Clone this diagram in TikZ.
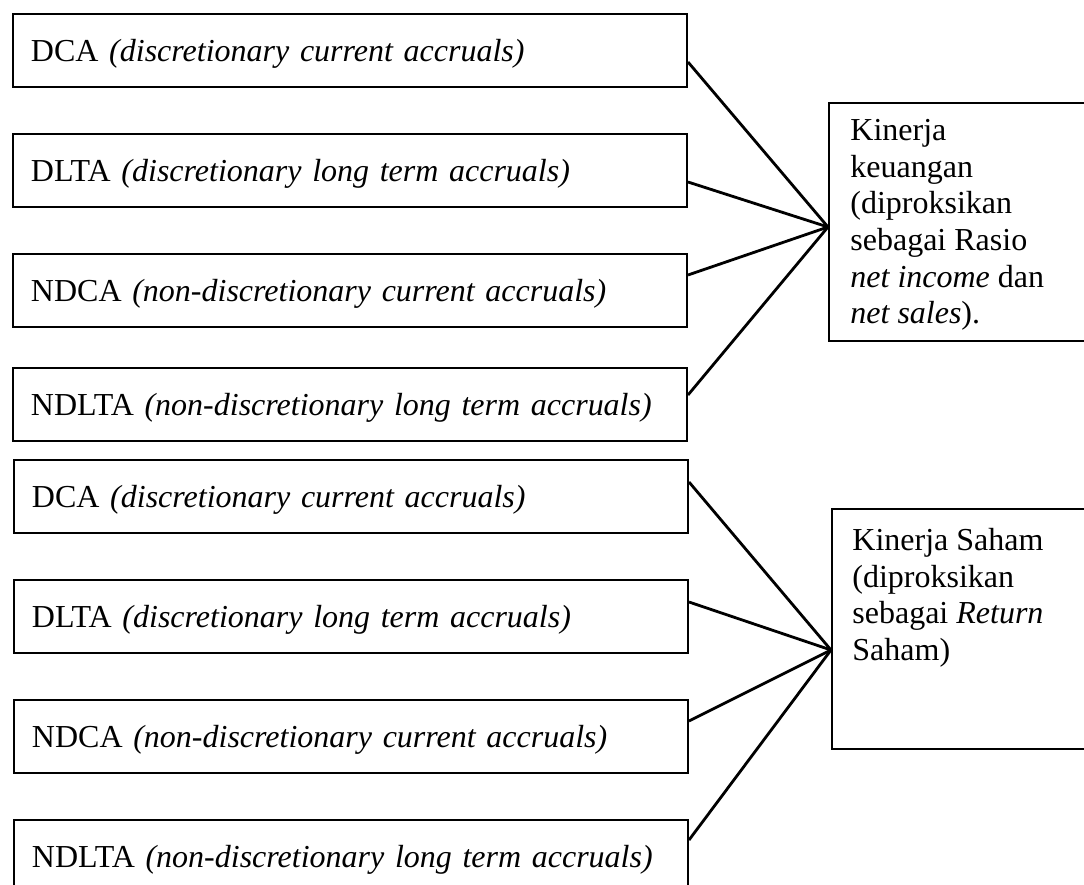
\documentclass[tikz,border=0pt]{standalone}
\usepackage{fontspec}
\setmainfont{Liberation Serif}
\begin{document}
\begin{tikzpicture}[x=0.5pt,y=-0.5pt,
  lbox/.style={draw, line width=1pt, anchor=west, minimum height=36.5pt,
    text width=319pt, align=left, inner xsep=9pt, inner ysep=0pt,
    text height=11pt, text depth=0pt, font=\fontsize{16}{18.35}\selectfont},
  rbox/.style={draw, line width=1pt, anchor=north west, minimum width=140pt, inner sep=0pt},
  rtext/.style={anchor=north west, align=left, inner sep=0pt, font=\fontsize{16}{18.35}\selectfont},
  link/.style={line width=1.4pt}]
\useasboundingbox (0,0) rectangle (1084,885);
\clip (0,0) rectangle (1084,885);
% left boxes, upper group
\node[lbox] (b1) at (12,50.5) {DCA \textit{(discretionary current accruals)}};
\node[lbox] (b2) at (12,170) {DLTA \textit{(discretionary long term accruals)}};
\node[lbox] (b3) at (12,290) {NDCA \textit{(non-discretionary current accruals)}};
\node[lbox] (b4) at (12,404.5) {NDLTA \textit{(non-discretionary long term accruals)}};
% left boxes, lower group
\node[lbox] (b5) at (13,496.5) {DCA \textit{(discretionary current accruals)}};
\node[lbox] (b6) at (13,616.5) {DLTA \textit{(discretionary long term accruals)}};
\node[lbox] (b7) at (13,736.5) {NDCA \textit{(non-discretionary current accruals)}};
\node[lbox] (b8) at (13,856.5) {NDLTA \textit{(non-discretionary long term accruals)}};
% right boxes
\node[rbox, minimum height=119pt] (r1) at (828,102) {};
\node[rbox, minimum height=120pt] (r2) at (831,508) {};
\node[rtext] (t1) at (850,116) {\rule{0pt}{12pt}Kinerja\\keuangan\\(diproksikan\\sebagai Rasio\\\textit{net income} dan\\\textit{net sales}).};
\node[rtext] (t2) at (852,526) {\rule{0pt}{12pt}Kinerja Saham\\(diproksikan\\sebagai \textit{Return}\\Saham)};
% connectors
\coordinate (p1) at ([yshift=-62.5pt]r1.north west);
\coordinate (p2) at ([yshift=-71pt]r2.north west);
\draw[link] ([yshift=-5.75pt]b1.east) -- (p1);
\draw[link] ([yshift=-6pt]b2.east) -- (p1);
\draw[link] ([yshift=7.5pt]b3.east) -- (p1);
\draw[link] ([yshift=4.75pt]b4.east) -- (p1);
\draw[link] ([yshift=7.25pt]b5.east) -- (p2);
\draw[link] ([yshift=7.25pt]b6.east) -- (p2);
\draw[link] ([yshift=7.75pt]b7.east) -- (p2);
\draw[link] ([yshift=8.25pt]b8.east) -- (p2);
\end{tikzpicture}
\end{document}
